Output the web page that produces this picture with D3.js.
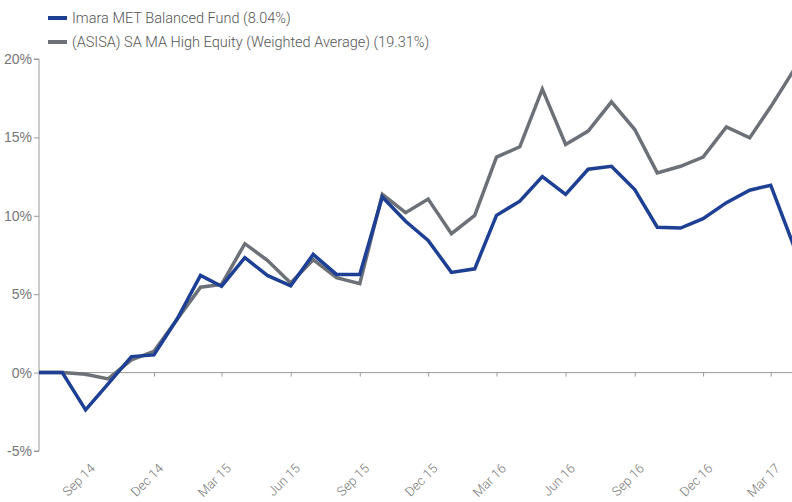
<!DOCTYPE html>
<html>
<head>
<meta charset="utf-8">
<script src="https://cdn.jsdelivr.net/npm/d3@7"></script>
<style>
  body { margin: 0; background: #fff; }
  svg { font-family: Roboto, "Noto Sans", sans-serif; }
</style>
</head>
<body>
<div id="chart"></div>
<script>
// monthly cumulative returns, Jul 14 .. Apr 17
var months = ["2014-07","2014-08","2014-09","2014-10","2014-11","2014-12",
  "2015-01","2015-02","2015-03","2015-04","2015-05","2015-06","2015-07","2015-08","2015-09","2015-10","2015-11","2015-12",
  "2016-01","2016-02","2016-03","2016-04","2016-05","2016-06","2016-07","2016-08","2016-09","2016-10","2016-11","2016-12",
  "2017-01","2017-02","2017-03","2017-04"];
var fund = [0, 0, -2.38, -0.72, 1.02, 1.13, 3.43, 6.2, 5.51, 7.33, 6.2, 5.53, 7.54, 6.26, 6.26, 11.2,
  9.65, 8.43, 6.39, 6.62, 10.03, 10.93, 12.5, 11.37, 12.97, 13.16, 11.67, 9.27, 9.22, 9.82, 10.84, 11.63, 11.95, 8.04];
var peers = [0, 0, -0.1, -0.4, 0.81, 1.36, 3.4, 5.45, 5.62, 8.22, 7.16, 5.71, 7.2, 6.05, 5.67, 11.37,
  10.2, 11.07, 8.86, 10.03, 13.74, 14.4, 18.08, 14.55, 15.4, 17.27, 15.5, 12.74, 13.16, 13.74, 15.67, 14.97, 16.95, 19.31];
var seriesNames = ["Imara MET Balanced Fund (8.04%)", "(ASISA) SA MA High Equity (Weighted Average) (19.31%)"];
var seriesColors = ["#1d3f94", "#6c7177"];
var yTicks = [-5, 0, 5, 10, 15, 20];

var width = 792, height = 502;
var parse = d3.timeParse("%Y-%m");
var dates = months.map(parse);

var svg = d3.select("#chart").append("svg").attr("width", width).attr("height", height);

var x = d3.scaleTime().domain([dates[0], dates[dates.length - 1]]).range([39, 794]);
var y = d3.scaleLinear().domain([-5, 20]).range([451, 59]);

// y axis
var yAxis = d3.axisLeft(y).tickValues(yTicks).tickSize(5).tickPadding(2).tickFormat(function(d){ return d + "%"; });
var gy = svg.append("g").attr("transform", "translate(39,0)").call(yAxis);
gy.select(".domain").attr("stroke", "#9a9a9a").attr("d", "M-5," + y(20) + "H0V" + y(-5) + "H-5");
gy.selectAll(".tick line").attr("stroke", "#9a9a9a");
gy.selectAll(".tick text").attr("fill", "#777").style("font-size", "14px").style("font-weight", 300);

// x axis along zero line, quarterly ticks Sep 14 .. Mar 17
var qTicks = d3.timeMonth.range(parse("2014-09"), parse("2017-04"), 3);
var xAxis = d3.axisBottom(x).tickValues(qTicks).tickSize(4).tickFormat("");
var gx = svg.append("g").attr("transform", "translate(0," + y(0) + ")").call(xAxis);
gx.select(".domain").attr("stroke", "#9a9a9a").attr("d", "M39,0H792");
gx.selectAll(".tick line").attr("stroke", "#9a9a9a");

// rotated labels at the bottom
var fmt = d3.timeFormat("%b %y");
svg.append("g").selectAll("text").data(qTicks).join("text")
  .attr("transform", function(d){ return "translate(" + (x(d) + 7) + ",466) rotate(-45)"; })
  .attr("text-anchor", "end")
  .attr("dy", "0.35em")
  .attr("fill", "#777")
  .style("font-size", "13px")
  .style("font-weight", 300)
  .text(fmt);

// lines
var line = d3.line().x(function(d, i){ return x(dates[i]); }).y(function(d){ return y(d); });
var plot = svg.append("g");
plot.append("path").datum(peers).attr("d", line).attr("fill", "none")
  .attr("stroke", seriesColors[1]).attr("stroke-width", 3.5).attr("stroke-linejoin", "miter");
plot.append("path").datum(fund).attr("d", line).attr("fill", "none")
  .attr("stroke", seriesColors[0]).attr("stroke-width", 3.5).attr("stroke-linejoin", "miter");

// legend
var legend = svg.append("g").selectAll("g").data(seriesNames).join("g")
  .attr("transform", function(d, i){ return "translate(48," + (18 + i * 24) + ")"; });
legend.append("rect").attr("x", 0).attr("y", -2).attr("width", 19).attr("height", 4)
  .attr("fill", function(d, i){ return seriesColors[i]; });
legend.append("text").attr("x", 24).attr("dy", "0.35em").attr("fill", "#555")
  .style("font-size", "14.5px").style("font-weight", 300).text(function(d){ return d; });
</script>
</body>
</html>
